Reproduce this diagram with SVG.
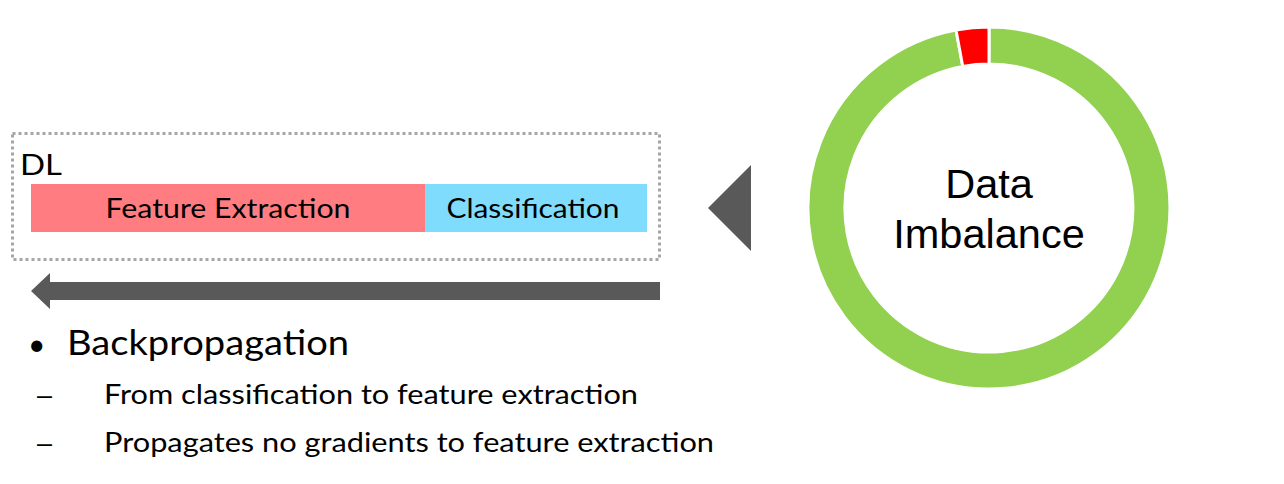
<svg xmlns="http://www.w3.org/2000/svg" width="1284" height="484" viewBox="0 0 1284 484">
  <style>
    .cal { font-family: Lato, "Open Sans", "Liberation Sans", sans-serif; fill: #000; }
    .ar { font-family: "Liberation Sans", Arial, sans-serif; fill: #000; }
    .dark { fill: #595959; }
  </style>
  <rect width="1284" height="484" fill="#fff"/>

  <!-- DL container -->
  <g id="dl-box">
    <rect x="12.5" y="133.5" width="647" height="126" fill="none" stroke="#a6a6a6" stroke-width="3" stroke-dasharray="3 3"/>
    <text class="cal" x="20" y="175" font-size="28" textLength="42" lengthAdjust="spacingAndGlyphs">DL</text>
  </g>

  <g id="feature-extraction">
    <rect x="31" y="184" width="394" height="48" fill="#ff7c80"/>
    <text class="cal" x="228" y="218" font-size="26" text-anchor="middle" textLength="245" lengthAdjust="spacingAndGlyphs">Feature Extraction</text>
  </g>

  <g id="classification">
    <rect x="425" y="184" width="222" height="48" fill="#7fdcfd"/>
    <text class="cal" x="533" y="218" font-size="26" text-anchor="middle" textLength="173" lengthAdjust="spacingAndGlyphs">Classification</text>
  </g>

  <!-- data imbalance ring -->
  <g id="data-imbalance">
    <path d="M989,27 A181,181 0 1 1 956.02,30.02 L962.76,66.4 A144,144 0 1 0 989,64 Z" fill="#92d050" stroke="#fff" stroke-width="3"/>
    <path d="M956.02,30.02 A181,181 0 0 1 989,27 L989,64 A144,144 0 0 0 962.76,66.4 Z" fill="#ff0000" stroke="#fff" stroke-width="3"/>
    <text class="ar" x="989" y="198" font-size="41.5" text-anchor="middle">Data</text>
    <text class="ar" x="989" y="248" font-size="41.5" text-anchor="middle">Imbalance</text>
  </g>

  <!-- connectors -->
  <g id="connectors">
    <polygon class="dark" points="751,165 708,208 751,251"/>
    <polygon class="dark" points="660,282 50,282 50,273 31,291 50,309 50,300 660,300"/>
  </g>

  <!-- notes -->
  <g id="notes">
    <text class="cal" x="28" y="355" font-size="30">•</text>
    <text class="cal" x="67" y="355" font-size="34" textLength="282" lengthAdjust="spacingAndGlyphs">Backpropagation</text>
    <text class="ar" x="37" y="404" font-size="27">–</text>
    <text class="cal" x="104" y="404" font-size="27" textLength="534" lengthAdjust="spacingAndGlyphs">From classification to feature extraction</text>
    <text class="ar" x="37" y="452" font-size="27">–</text>
    <text class="cal" x="104" y="452" font-size="27" textLength="610" lengthAdjust="spacingAndGlyphs">Propagates no gradients to feature extraction</text>
  </g>
</svg>
